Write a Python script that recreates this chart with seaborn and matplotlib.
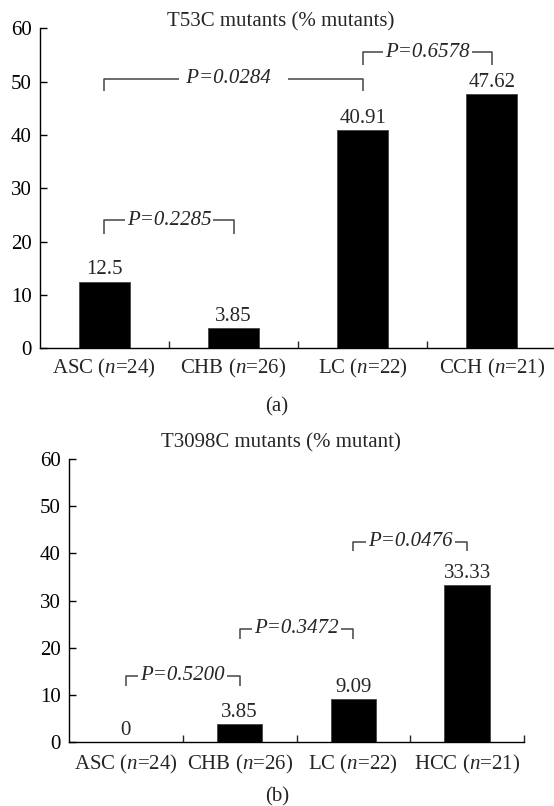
import matplotlib
matplotlib.use("Agg")
import matplotlib.pyplot as plt
import seaborn as sns

# data
cats_a = ["ASC ($\\it{n}$=24)", "CHB ($\\it{n}$=26)", "LC ($\\it{n}$=22)", "CCH ($\\it{n}$=21)"]
vals_a = [12.5, 3.85, 40.91, 47.62]
labels_a = ["12.5", "3.85", "40.91", "47.62"]
# (left group, right group, bracket top, leg bottom, label)
brackets_a = [(0, 1, 24.0, 21.5, "P=0.2285"),
              (0, 2, 50.5, 48.2, " P=0.0284   "),
              (2, 3, 55.5, 53.1, "P=0.6578")]

cats_b = ["ASC ($\\it{n}$=24)", "CHB ($\\it{n}$=26)", "LC ($\\it{n}$=22)", "HCC ($\\it{n}$=21)"]
vals_b = [0, 3.85, 9.09, 33.33]
labels_b = ["0", "3.85", "9.09", "33.33"]
brackets_b = [(0, 1, 14.1, 11.9, "P=0.5200"),
              (1, 2, 24.0, 21.8, "P=0.3472"),
              (2, 3, 42.5, 40.6, "P=0.0476")]

yticks = [0, 10, 20, 30, 40, 50, 60]

sns.set_style("ticks")
plt.rcParams['font.family'] = ['Liberation Serif', 'DejaVu Serif']
plt.rcParams['mathtext.fontset'] = 'custom'
plt.rcParams['mathtext.rm'] = 'Liberation Serif'
plt.rcParams['mathtext.it'] = 'Liberation Serif:italic'
plt.rcParams['font.size'] = 15

fig = plt.figure(figsize=(5.54, 8.06), dpi=100)
ax_a = fig.add_axes([0.072, 0.568, 0.932, 0.397])
ax_b = fig.add_axes([0.1245, 0.0794, 0.8215, 0.3511])


def draw_panel(ax, cats, vals, labels, brackets, zero_tick=False, xpad=6):
    sns.barplot(x=cats, y=vals, color="black", width=0.4, saturation=1,
                edgecolor="#444444", linewidth=0.6, ax=ax)
    ax.set_xlim(-0.5, 3.5)
    ax.set_ylim(0, 60)
    ax.set_yticks(yticks)
    ax.tick_params(axis='y', direction='in', length=5, width=1, pad=6,
                   labelsize=15, colors='black')
    ax.set_xticks(range(len(cats)))
    ax.set_xticklabels(cats)
    ax.tick_params(axis='x', which='major', length=0, pad=xpad, labelsize=15)
    minor = [0.5, 1.5, 2.5, 3.5]
    if zero_tick:
        minor = [0] + minor
    ax.set_xticks(minor, minor=True)
    ax.tick_params(axis='x', which='minor', direction='in', length=5, width=1)
    ax.set_xlabel("")
    ax.set_ylabel("")
    sns.despine(ax=ax)
    for s in ['left', 'bottom']:
        ax.spines[s].set_linewidth(1.0)
        ax.spines[s].set_color('black')
    # value labels
    for i, (v, t) in enumerate(zip(vals, labels)):
        ax.annotate(t, (i, v), xytext=(0, 1.5), textcoords='offset points',
                    ha='center', va='bottom', fontsize=15)
    # significance brackets
    for i, j, top, leg, txt in brackets:
        ax.plot([i, i, j, j], [leg, top, top, leg], color='#444444', lw=1.1,
                solid_capstyle='butt', zorder=3)
        ax.text((i + j) / 2, top, txt, ha='center', va='center',
                fontsize=15, fontstyle='italic', zorder=4,
                bbox=dict(facecolor='white', edgecolor='none', pad=1.5))


draw_panel(ax_a, cats_a, vals_a, labels_a, brackets_a)
draw_panel(ax_b, cats_b, vals_b, labels_b, brackets_b, zero_tick=True, xpad=8)

fig.text(0.507, 0.973, "T53C mutants (% mutants)", ha='center', va='center', fontsize=15)
fig.text(0.507, 0.450, "T3098C mutants (% mutant)", ha='center', va='center', fontsize=15)
fig.text(0.5, 0.495, "(a)", ha='center', va='center', fontsize=15)
fig.text(0.5, 0.011, "(b)", ha='center', va='center', fontsize=15)

fig.savefig("out.png", dpi=100)
